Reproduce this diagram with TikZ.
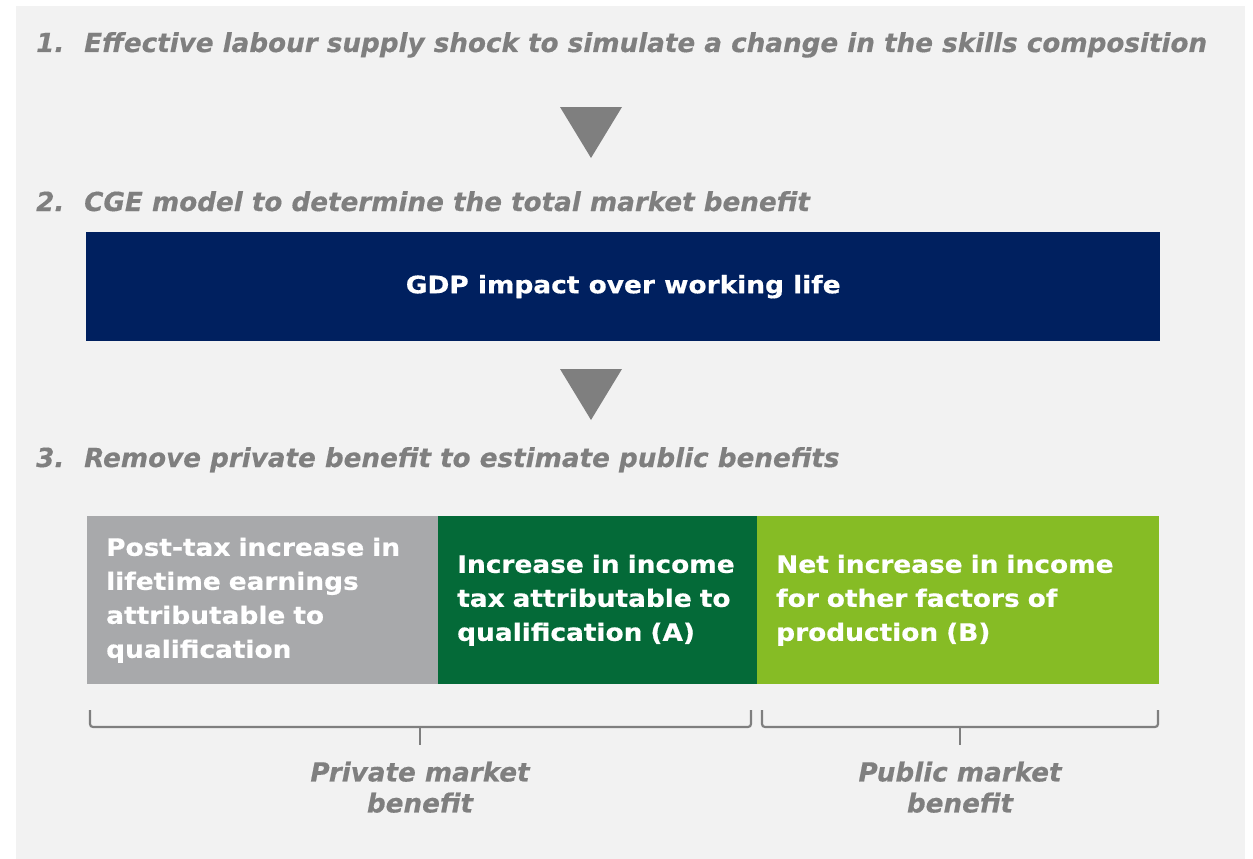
\documentclass[tikz,border=0pt]{standalone}
\usepackage{fontspec}
\setmainfont{DejaVu Sans}[BoldItalicFeatures={FakeBold=0.4}]
\newfontfamily\boxfont{DejaVu Sans}[FakeStretch=1.1, BoldFeatures={FakeBold=0.6}]
\usetikzlibrary{positioning}

\definecolor{panelgray}{HTML}{F2F2F2}
\definecolor{textgray}{HTML}{7F7F7F}
\definecolor{boxgray}{HTML}{A8A9AB}
\definecolor{gdpblue}{HTML}{00205F}
\definecolor{darkgreen}{HTML}{046A38}
\definecolor{lightgreen}{HTML}{86BC25}

\tikzset{
	heading/.style={anchor=base west, text=textgray, inner sep=0pt, font=\fontsize{26.2}{30}\selectfont\bfseries\itshape},
	bigbox/.style={anchor=north west, inner sep=0pt, text=white, font=\boxfont\fontsize{24}{34}\selectfont\bfseries},
	partbox/.style={anchor=north west, inner xsep=19pt, inner ysep=0pt, align=left, text=white, font=\boxfont\fontsize{24}{34}\selectfont\bfseries},
	downarrow/.style={fill=textgray},
	bracket/.style={draw=textgray, line width=2.2pt, rounded corners=3pt},
	bracelabel/.style={align=center, text=textgray, font=\fontsize{26.2}{31}\selectfont\bfseries\itshape}
}

\begin{document}
\begin{tikzpicture}[x=1pt, y=-1pt]
			\useasboundingbox (0, 0) rectangle (1253, 859);
			\fill[panelgray] (16, 6) rectangle (1245, 859);

			\draw (36, 52) 		node[heading] 	(num1) 		{1.};
			\draw (84, 52) 		node[heading] 	(step1) 	{Effective labour supply shock to simulate a change in the skills composition};
			\draw (36, 211) 	node[heading] 	(num2) 		{2.};
			\draw (84, 211) 	node[heading] 	(step2) 	{CGE model to determine the total market benefit};
			\draw (36, 467) 	node[heading] 	(num3) 		{3.};
			\draw (84, 467) 	node[heading] 	(step3) 	{Remove private benefit to estimate public benefits};

			\fill[downarrow] (560, 107) -- (622, 107) -- (591, 158) -- cycle;
			\fill[downarrow] (560, 369) -- (622, 369) -- (591, 420) -- cycle;

			\draw (86, 232) 	node[bigbox, fill=gdpblue, minimum width=1074pt, minimum height=109pt] 	(gdp) 	{GDP impact over working life};

			\draw (87, 516) 	node[partbox, fill=boxgray, text width=313pt, minimum height=168pt] 	(private) 
				{Post-tax increase in\\lifetime earnings\\attributable to\\qualification};
			\draw (438, 516) 	node[partbox, fill=darkgreen, text width=281pt, minimum height=168pt] 	(tax) 
				{Increase in income\\tax attributable to\\qualification (A)};
			\draw (757, 516) 	node[partbox, fill=lightgreen, text width=364pt, minimum height=168pt] 	(other) 
				{Net increase in income\\for other factors of\\production (B)};

			\draw (420, 745) 	coordinate 	(privtip);
			\draw (960, 745) 	coordinate 	(pubtip);
			\draw[bracket] (90, 710) -- (90, 727) -- (751, 727) -- (751, 710);
			\draw[bracket] (762, 710) -- (762, 727) -- (1158, 727) -- (1158, 710);
			\draw[bracket] (420, 727) -- (privtip);
			\draw[bracket] (960, 727) -- (pubtip);

			\node[bracelabel, below=13pt of privtip] 	(privlabel) 	{Private market\\benefit};
			\node[bracelabel, below=13pt of pubtip] 	(publabel) 	{Public market\\benefit};
		\end{tikzpicture}
\end{document}
